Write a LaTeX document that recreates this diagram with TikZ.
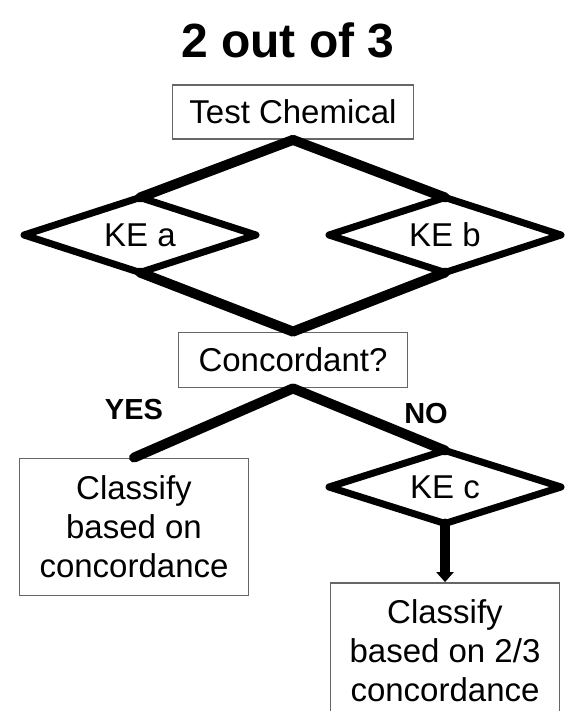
\documentclass[tikz,border=0pt]{standalone}
\usepackage{fontspec}
\setmainfont{Liberation Sans}
\usetikzlibrary{shapes.geometric, arrows.meta, positioning}

\begin{document}
\begin{tikzpicture}[x=1pt,y=-1pt,align=center,font=\fontsize{33}{39}\selectfont]
\tikzstyle{box}=[rectangle,draw=black!60,line width=1.8pt,inner sep=0pt]
\tikzstyle{ke}=[diamond,aspect=3.1,draw=black,line width=7pt,line join=round,minimum width=232pt,minimum height=75pt,inner sep=0pt,outer sep=0pt]
\tikzstyle{link}=[line width=10pt,line cap=round,line join=round]
\tikzstyle{answer}=[font=\fontsize{29}{34}\selectfont\bfseries]

\path[use as bounding box, clip] (0,0) rectangle (568,711);

\node[box,minimum width=241pt,minimum height=54pt] (chem) at (293,112) {Test Chemical};
\node[font=\fontsize{48}{56}\selectfont\bfseries,xshift=-5pt] (title) [above of=chem, node distance=72pt] {2 out of 3};
\node[ke] (kea) at (140,235) {KE a};
\node[ke] (keb) at (445,235) {KE b};
\node[box,minimum width=229pt,minimum height=55pt] (conc) [below of=chem, node distance=248pt] {Concordant?};
\node[box,minimum width=229pt,minimum height=137pt] (cla) at (134,527) {Classify\\based on\\concordance};
\node[ke,minimum height=73pt] (kec) [below of=keb, node distance=252pt] {KE c};
\node[box,minimum width=229pt,minimum height=136pt] (clb) [below of=kec, node distance=164pt] {Classify\\based on 2/3\\concordance};

\node[answer] (yes) at (134,410) {YES};
\node[answer] (no) at (426,414) {NO};

\path[link]
  (chem.south) edge (kea.north)
  (chem.south) edge (keb.north)
  (kea.south) edge (conc.north)
  (keb.south) edge (conc.north)
  (conc.south) edge (cla.north)
  (conc.south) edge (kec.north)
  (kec.south) edge [-{Triangle[length=10pt,width=17pt]}] (clb.north);
\end{tikzpicture}
\end{document}
